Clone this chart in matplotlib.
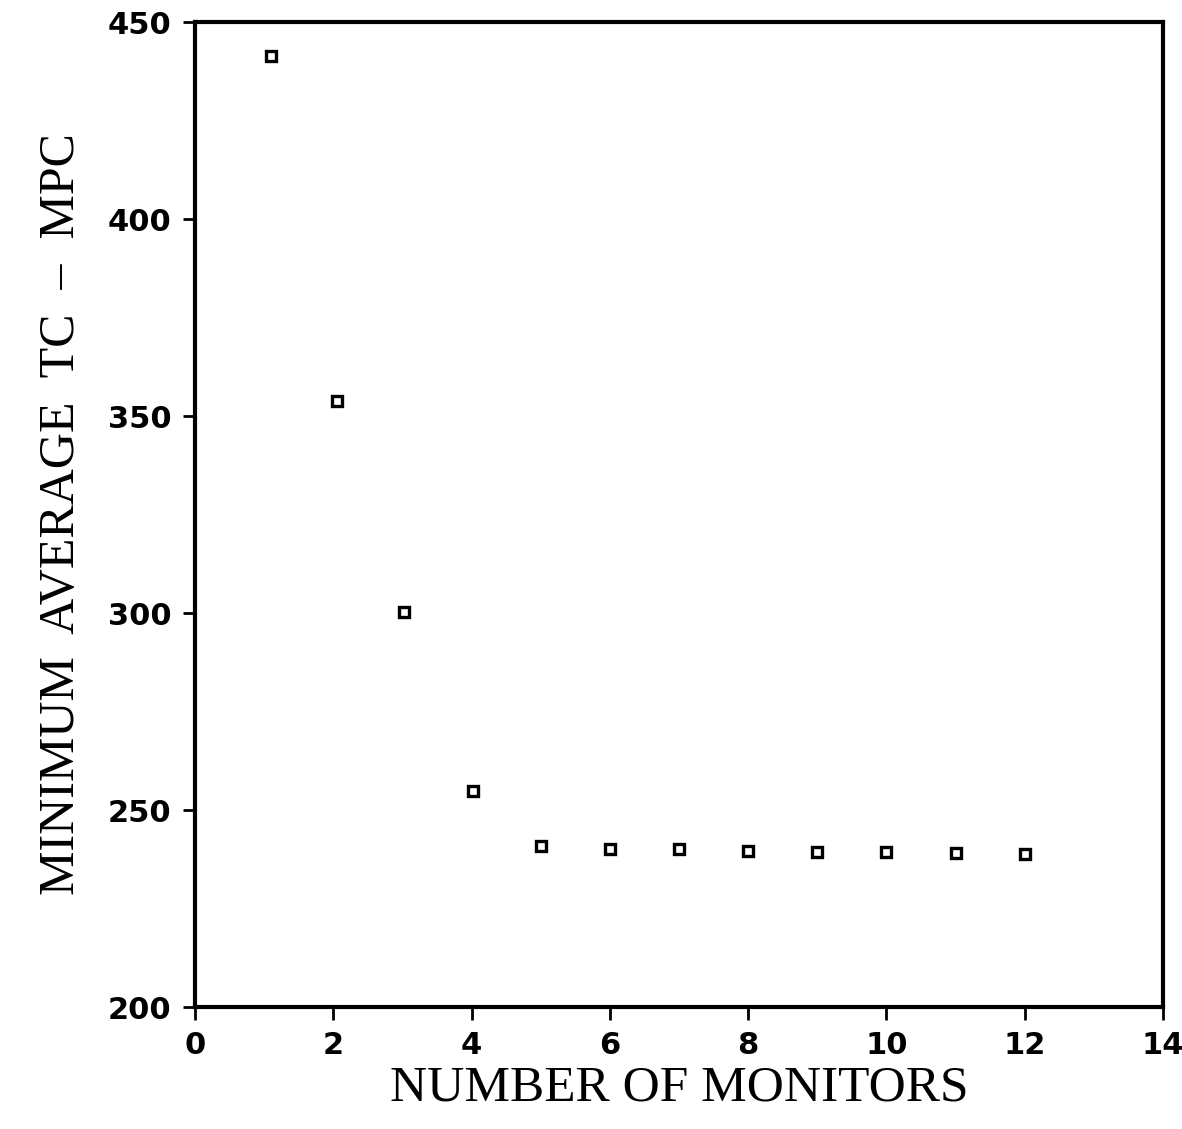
import matplotlib
matplotlib.use("Agg")
import matplotlib.pyplot as plt

monitors = [1.1, 2.05, 3.02, 4.02, 5.0, 6.0, 7.0, 8.0, 9.0, 10.0, 11.0, 12.0]
min_avg_tc = [441.4, 353.8, 300.3, 254.8, 240.9, 240.2, 240.1, 239.6, 239.3, 239.3, 239.1, 238.8]
xticks = [0, 2, 4, 6, 8, 10, 12, 14]
yticks = [200, 250, 300, 350, 400, 450]

fig = plt.figure(figsize=(11.82, 11.29), dpi=100)
ax = fig.add_axes([0.165, 0.108, 0.819, 0.8725])
ax.plot(monitors, min_avg_tc, linestyle='none', marker='s', markersize=7,
        markerfacecolor='white', markeredgecolor='black', markeredgewidth=2.4)
ax.set_xlim(0, 14)
ax.set_ylim(200, 450)
ax.set_xticks(xticks)
ax.set_yticks(yticks)
for s in ax.spines.values():
    s.set_linewidth(3)
ax.tick_params(direction='out', length=9, width=2, labelsize=22, pad=8)
for lab in ax.get_xticklabels() + ax.get_yticklabels():
    lab.set_fontweight('bold')
    lab.set_family('DejaVu Sans')
ax.set_xlabel('NUMBER OF MONITORS', family='Liberation Serif', fontsize=37, labelpad=4)
ax.set_ylabel('MINIMUM  AVERAGE  TC  \u2013  MPC', family='Liberation Serif', fontsize=36, labelpad=16)
fig.savefig('out.png', dpi=100)
